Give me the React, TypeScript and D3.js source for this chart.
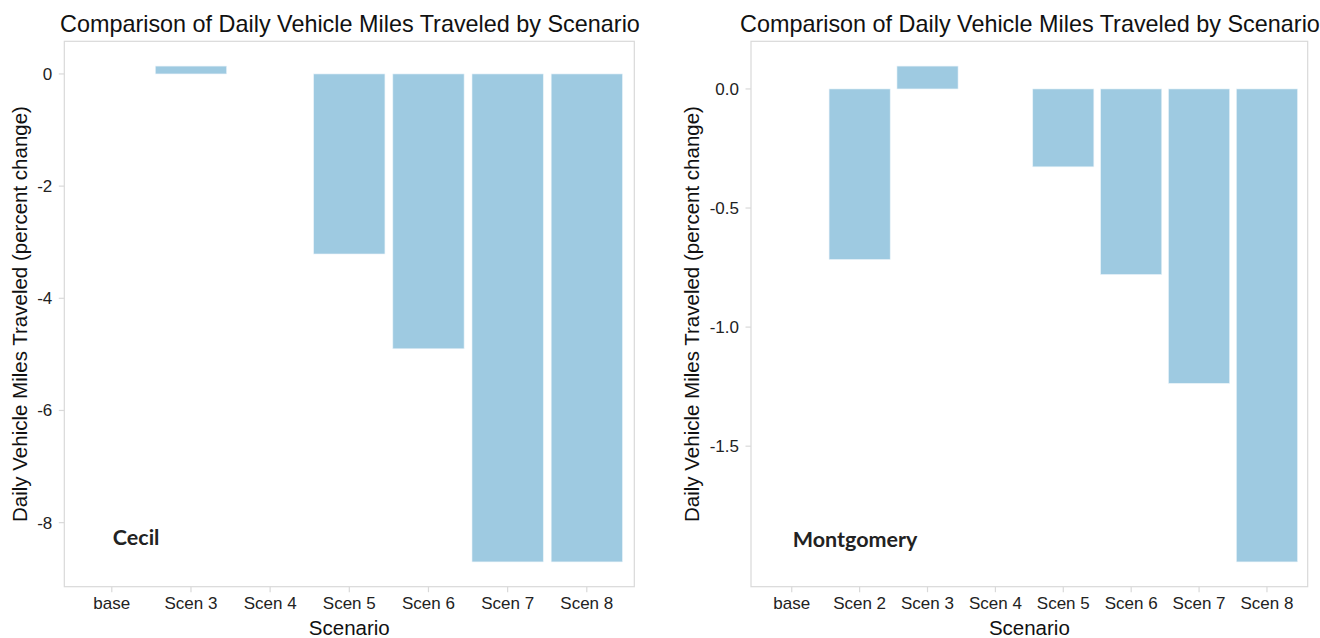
import React from "react";
import * as d3 from "d3";

const cecilCategories = ["base", "Scen 3", "Scen 4", "Scen 5", "Scen 6", "Scen 7", "Scen 8"];
const cecilValues = [0, 0.14, 0, -3.21, -4.9, -8.7, -8.7];
const cecilTicks = [0, -2, -4, -6, -8];
const cecilLabel = "Cecil";
const cecilLabelY = -8.25;

const montCategories = ["base", "Scen 2", "Scen 3", "Scen 4", "Scen 5", "Scen 6", "Scen 7", "Scen 8"];
const montValues = [0, -0.716, 0.096, 0, -0.327, -0.779, -1.236, -1.986];
const montTicks = [0, -0.5, -1.0, -1.5];
const montLabel = "Montgomery";
const montLabelY = -1.89;

const titleText = "Comparison of Daily Vehicle Miles Traveled by Scenario";
const xTitle = "Scenario";
const yTitle = "Daily Vehicle Miles Traveled (percent change)";

const FONT = "'Liberation Sans', Arial, sans-serif";
const BAR = "#9ecae1";
const FRAME = "#d9d9d9";

type PanelProps = {
  left: number;
  right: number;
  top: number;
  bottom: number;
  categories: string[];
  values: number[];
  ticks: number[];
  fmt: (v: number) => string;
  label: string;
  labelY: number;
  yTitleX: number;
  titleX: number;
};

function Panel(p: PanelProps) {
  const x = d3
    .scaleBand<string>()
    .domain(p.categories)
    .range([p.left, p.right])
    .paddingInner(0.1)
    .paddingOuter(0.15);
  const ext = d3.extent([0, ...p.values]) as [number, number];
  const pad = (ext[1] - ext[0]) * 0.05;
  const y = d3
    .scaleLinear()
    .domain([ext[0] - pad, ext[1] + pad])
    .range([p.bottom, p.top]);
  const cx = (p.left + p.right) / 2;
  const cy = (p.top + p.bottom) / 2;
  return (
    <g>
      <text x={p.titleX} y={32} fontSize={23.4} fontFamily={FONT} fill="#111">
        {titleText}
      </text>
      <rect x={p.left} y={p.top} width={p.right - p.left} height={p.bottom - p.top} fill="#fff" stroke={FRAME} strokeWidth={1.2} />
      {p.categories.map((c, i) => {
        const v = p.values[i];
        if (v === 0) return null;
        const y0 = y(0);
        const y1 = y(v);
        return (
          <rect
            key={c}
            x={x(c)}
            y={Math.min(y0, y1)}
            width={x.bandwidth()}
            height={Math.abs(y1 - y0)}
            fill={BAR}
            stroke="#e8f2f8"
            strokeWidth={0.6}
          />
        );
      })}
      {p.ticks.map((t) => (
        <g key={t}>
          <line x1={p.left - 5.5} x2={p.left} y1={y(t)} y2={y(t)} stroke={FRAME} strokeWidth={1.2} />
          <text x={p.left - 12} y={y(t) + 6} textAnchor="end" fontSize={17} fontFamily={FONT} fill="#222">
            {p.fmt(t)}
          </text>
        </g>
      ))}
      {p.categories.map((c) => {
        const xc = (x(c) as number) + x.bandwidth() / 2;
        return (
          <g key={c}>
            <line x1={xc} x2={xc} y1={p.bottom} y2={p.bottom + 5.5} stroke={FRAME} strokeWidth={1.2} />
            <text x={xc} y={609} textAnchor="middle" fontSize={17} fontFamily={FONT} fill="#222">
              {c}
            </text>
          </g>
        );
      })}
      <text x={cx} y={635} textAnchor="middle" fontSize={20.5} fontFamily={FONT} fill="#111">
        {xTitle}
      </text>
      <text
        transform={`translate(${p.yTitleX},${cy}) rotate(-90)`}
        textAnchor="middle"
        fontSize={20.5}
        fontFamily={FONT}
        fill="#111"
      >
        {yTitle}
      </text>
      <text
        x={(x(p.categories[0]) as number) + x.bandwidth() / 2 + 1}
        y={y(p.labelY)}
        dominantBaseline="central"
        fontSize={21.5}
        fontWeight="bold"
        fontFamily="Lato, 'Open Sans', sans-serif"
        fill="#222"
      >
        {p.label}
      </text>
    </g>
  );
}

const intFmt = (v: number) => String(v);
const oneFmt = (v: number) => v.toFixed(1);

export default function App() {
  return (
    <svg
      width={1320}
      height={638}
      style={{ position: "absolute", left: 0, top: 0, background: "#fff" }}
    >
      <rect width={1320} height={638} fill="#fff" />
      <Panel
        left={64.3}
        right={634.3}
        top={41.3}
        bottom={586.7}
        categories={cecilCategories}
        values={cecilValues}
        ticks={cecilTicks}
        fmt={intFmt}
        label={cecilLabel}
        labelY={cecilLabelY}
        yTitleX={26.5}
        titleX={60}
      />
      <Panel
        left={751}
        right={1307.7}
        top={41.3}
        bottom={586.7}
        categories={montCategories}
        values={montValues}
        ticks={montTicks}
        fmt={oneFmt}
        label={montLabel}
        labelY={montLabelY}
        yTitleX={699}
        titleX={740}
      />
    </svg>
  );
}
